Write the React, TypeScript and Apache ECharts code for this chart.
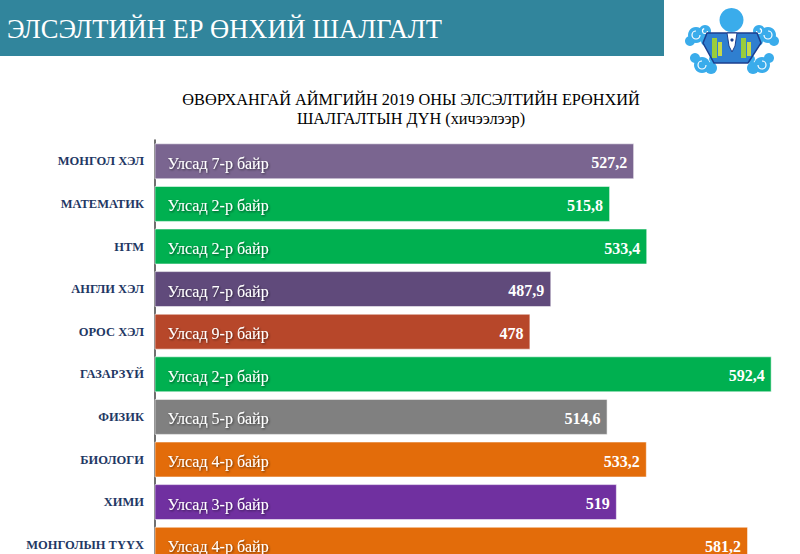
import React, { useEffect, useRef } from "react";
import * as echarts from "echarts";

const categories = [
  "МОНГОЛ ХЭЛ",
  "МАТЕМАТИК",
  "НТМ",
  "АНГЛИ ХЭЛ",
  "ОРОС ХЭЛ",
  "ГАЗАРЗҮЙ",
  "ФИЗИК",
  "БИОЛОГИ",
  "ХИМИ",
  "МОНГОЛЫН ТҮҮХ",
];
const scores = [527.2, 515.8, 533.4, 487.9, 478, 592.4, 514.6, 533.2, 519, 581.2];
const ranks = [7, 2, 2, 7, 9, 2, 5, 4, 3, 4];
const barColors = [
  "#7A6590",
  "#00B050",
  "#00B050",
  "#604A7B",
  "#B7472A",
  "#00B050",
  "#808080",
  "#E36C0A",
  "#7030A0",
  "#E36C0A",
];
const headerTitle = "ЭЛСЭЛТИЙН ЕР ӨНХИЙ ШАЛГАЛТ";
const chartTitleLines = [
  "ӨВӨРХАНГАЙ АЙМГИЙН 2019 ОНЫ ЭЛСЭЛТИЙН ЕРӨНХИЙ",
  "ШАЛГАЛТЫН ДҮН (хичээлээр)",
];

const SERIF = "Liberation Serif, Times New Roman, serif";

function logoElements(): any[] {
  const light = "#3AACEB";
  const blob = (pts: number[][]) =>
    pts.map(([cx, cy, r]) => ({
      type: "circle",
      shape: { cx, cy, r },
      style: { fill: light },
    }));
  const swirl = (cx: number, cy: number, r: number, s: number, e: number) => ({
    type: "arc",
    shape: { cx, cy, r, startAngle: s, endAngle: e },
    style: { stroke: "#ffffff", lineWidth: 1.2, fill: "none" },
  });
  return [
    // upper clouds
    ...blob([
      [696, 35, 8],
      [705, 31, 6],
      [690, 41, 5],
      [706, 41, 5],
      [768, 35, 8],
      [759, 31, 6],
      [774, 41, 5],
      [758, 41, 5],
    ]),
    swirl(696, 35, 4, 0, Math.PI * 1.5),
    swirl(768, 35, 4, Math.PI * 1.5, Math.PI),
    swirl(705, 31, 2.5, 0, Math.PI * 1.4),
    swirl(759, 31, 2.5, Math.PI * 1.6, Math.PI),
    // lower clouds
    ...blob([
      [702, 65, 8],
      [711, 68, 6],
      [695, 58, 5],
      [713, 59, 4],
      [762, 65, 8],
      [753, 68, 6],
      [769, 58, 5],
      [751, 59, 4],
    ]),
    swirl(702, 65, 4, 0, Math.PI * 1.5),
    swirl(762, 65, 4, Math.PI * 1.5, Math.PI),
    // body
    {
      type: "polygon",
      shape: {
        points: [
          [707, 33],
          [757, 33],
          [761, 43],
          [748, 63],
          [714, 63],
          [703, 43],
        ],
      },
      style: { fill: "#2F7FD0", stroke: "#1B3F8F", lineWidth: 1.5 },
    },
    { type: "rect", shape: { x: 712, y: 38, width: 5, height: 20 }, style: { fill: "#9ACD3C" } },
    { type: "rect", shape: { x: 718, y: 42, width: 4, height: 14 }, style: { fill: "#C6D94A" } },
    { type: "rect", shape: { x: 741, y: 38, width: 5, height: 20 }, style: { fill: "#9ACD3C" } },
    { type: "rect", shape: { x: 747, y: 42, width: 4, height: 14 }, style: { fill: "#C6D94A" } },
    {
      type: "polygon",
      shape: {
        points: [
          [727, 33],
          [737, 33],
          [735, 46],
          [732, 52],
          [729, 46],
        ],
      },
      style: { fill: "#ffffff", stroke: "#1B3F8F", lineWidth: 1 },
    },
    { type: "circle", shape: { cx: 732, cy: 40, r: 1.6 }, style: { fill: "#1B3F8F" } },
    {
      type: "circle",
      shape: { cx: 731.5, cy: 20, r: 12 },
      style: { fill: light },
    },
  ];
}

export default function App() {
  const ref = useRef<HTMLDivElement>(null);

  useEffect(() => {
    if (!ref.current) return;
    const chart = echarts.init(ref.current, undefined, { renderer: "svg" });
    const option: any = {
      animation: false,
      backgroundColor: "#ffffff",
      grid: {
        left: 155,
        right: 12.3,
        top: 140,
        height: 426,
        containLabel: false,
        outerBoundsMode: "none",
      },
      xAxis: {
        type: "value",
        min: 300,
        max: 600,
        show: false,
        splitLine: { show: false },
      },
      yAxis: {
        type: "category",
        data: categories,
        inverse: true,
        axisLine: { show: true, lineStyle: { color: "#404040", width: 1.5 } },
        axisTick: { show: false },
        axisLabel: {
          fontFamily: SERIF,
          fontWeight: "bold",
          fontSize: 12.5,
          color: "#1F3864",
          margin: 11,
        },
        splitLine: { show: false },
      },
      series: [
        {
          type: "bar",
          barWidth: 36,
          data: scores.map((v, i) => ({
            value: v,
            itemStyle: { color: barColors[i] },
          })),
          itemStyle: { borderColor: "rgba(255,255,255,0.55)", borderWidth: 1 },
          label: {
            show: true,
            position: "insideLeft",
            distance: 13,
            offset: [0, 2],
            formatter: (p: any) => `Улсад ${ranks[p.dataIndex]}-р байр`,
            fontFamily: SERIF,
            fontSize: 16,
            color: "#ffffff",
            textShadowColor: "rgba(0,0,0,0.55)",
            textShadowBlur: 2,
            textShadowOffsetX: 1,
            textShadowOffsetY: 1,
          },
          silent: true,
          z: 2,
        },
        {
          type: "bar",
          barWidth: 36,
          barGap: "-100%",
          data: scores,
          itemStyle: { color: "rgba(0,0,0,0)" },
          label: {
            show: true,
            position: "insideRight",
            distance: 7,
            offset: [0, 1.5],
            formatter: (p: any) => String(p.value).replace(".", ","),
            fontFamily: SERIF,
            fontWeight: "bold",
            fontSize: 16,
            color: "#ffffff",
          },
          silent: true,
          z: 3,
        },
      ],
      graphic: [
        {
          type: "rect",
          shape: { x: 0, y: 0, width: 664, height: 56 },
          style: { fill: "#31859C" },
          silent: true,
        },
        {
          type: "text",
          x: 7,
          y: 29,
          style: {
            text: headerTitle,
            fill: "#ffffff",
            fontFamily: SERIF,
            fontSize: 26.5,
            verticalAlign: "middle",
            align: "left",
          },
          silent: true,
        },
        {
          type: "text",
          x: 411,
          y: 99,
          style: {
            text: chartTitleLines[0],
            fill: "#000000",
            fontFamily: SERIF,
            fontSize: 16.3,
            verticalAlign: "middle",
            align: "center",
          },
          silent: true,
        },
        {
          type: "text",
          x: 411,
          y: 118,
          style: {
            text: chartTitleLines[1],
            fill: "#000000",
            fontFamily: SERIF,
            fontSize: 16.3,
            verticalAlign: "middle",
            align: "center",
          },
          silent: true,
        },
        ...logoElements().map((e) => ({ ...e, silent: true })),
      ],
    };
    chart.setOption(option);
    return () => chart.dispose();
  }, []);

  return (
    <div
      ref={ref}
      style={{ position: "fixed", left: 0, top: 0, width: 800, height: 554 }}
    />
  );
}
